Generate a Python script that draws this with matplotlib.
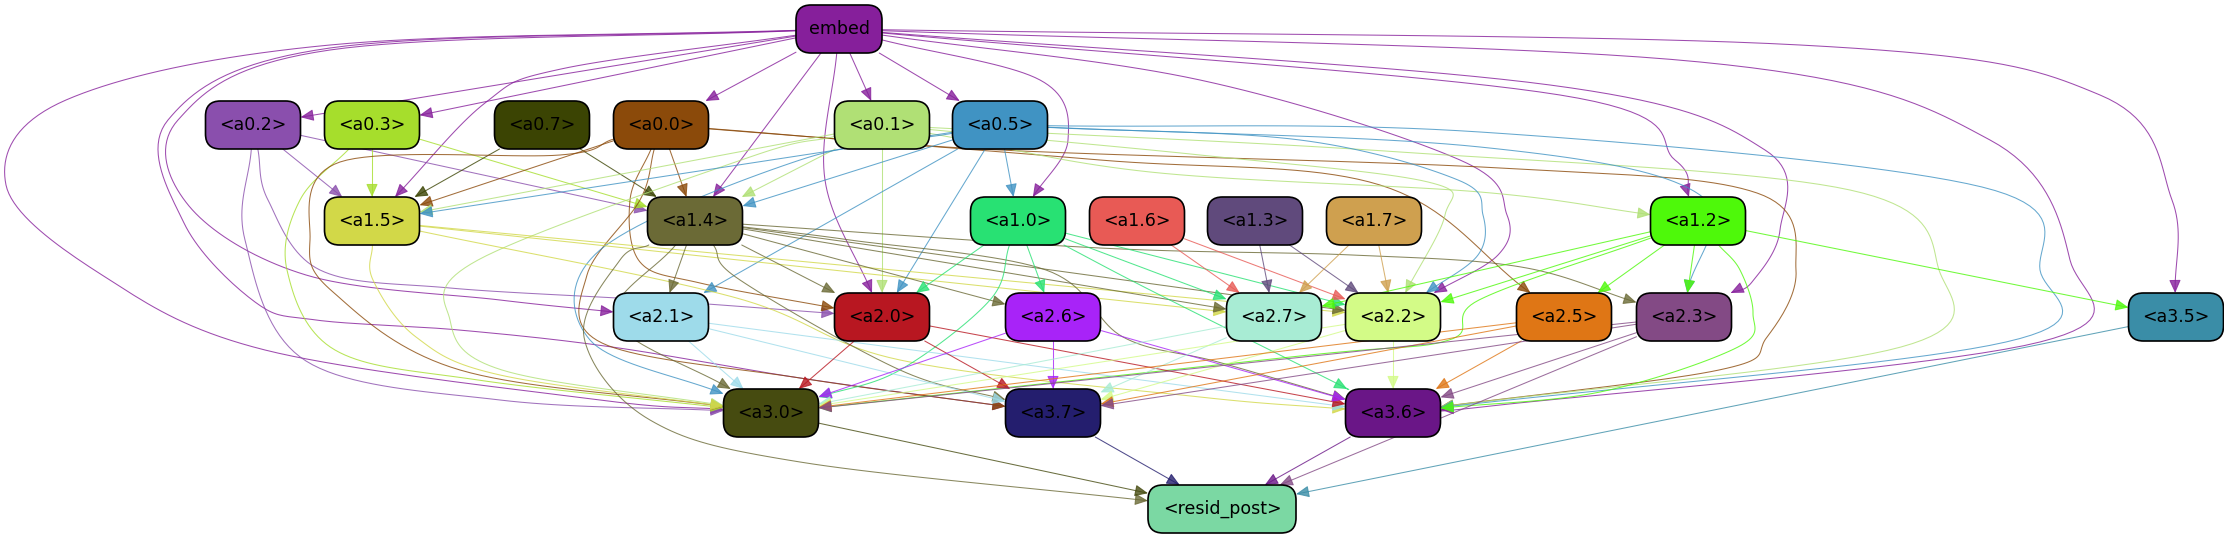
import numpy as np
import matplotlib
matplotlib.use("Agg")
import matplotlib.pyplot as plt
from matplotlib.patches import FancyBboxPatch, FancyArrowPatch, ArrowStyle
from matplotlib.path import Path

# node names and fill colours
nodes = ["embed", "a0.2", "a0.3", "a0.7", "a0.0", "a0.1", "a0.5",
         "a1.5", "a1.4", "a1.0", "a1.6", "a1.3", "a1.7", "a1.2",
         "a2.1", "a2.0", "a2.6", "a2.7", "a2.2", "a2.5", "a2.3", "a3.5",
         "a3.0", "a3.7", "a3.6", "resid_post"]
colors = ["#861f9b", "#8a4fad", "#a6de2c", "#3b4403", "#8b4a0a", "#b0e075", "#4093c3",
          "#d2d848", "#6b6a36", "#28e173", "#e85a55", "#604a7c", "#cfa04f", "#4ef90a",
          "#9edbea", "#b81721", "#a823f8", "#a8ecd4", "#d3fb87", "#df7615", "#834a85", "#3a8da7",
          "#464b10", "#241e6e", "#6a1687", "#7bd8a3"]

# edges: source -> targets
edges = {
    "embed": ["a0.2", "a0.3", "a0.0", "a0.1", "a0.5", "a1.5", "a1.4", "a1.0", "a1.2",
              "a2.0", "a2.1", "a2.2", "a2.3", "a3.0", "a3.7", "a3.6", "a3.5"],
    "a0.2": ["a1.5", "a1.4", "a2.0", "a3.0"],
    "a0.3": ["a1.5", "a1.4", "a3.0"],
    "a0.7": ["a1.5", "a1.4"],
    "a0.0": ["a1.5", "a1.4", "a2.0", "a2.5", "a3.0", "a3.7", "a3.6"],
    "a0.1": ["a1.5", "a1.4", "a1.2", "a2.0", "a2.2", "a3.0", "a3.6"],
    "a0.5": ["a1.0", "a1.4", "a1.5", "a2.0", "a2.1", "a2.2", "a2.3", "a3.0", "a3.6"],
    "a1.5": ["a2.2", "a2.7", "a3.0", "a3.6"],
    "a1.4": ["a2.1", "a2.0", "a2.6", "a2.7", "a2.2", "a2.3", "a3.0", "a3.7", "a3.6", "resid_post"],
    "a1.0": ["a2.0", "a2.6", "a2.7", "a2.2", "a3.0", "a3.6"],
    "a1.6": ["a2.7", "a2.2"],
    "a1.3": ["a2.7", "a2.2"],
    "a1.7": ["a2.7", "a2.2"],
    "a1.2": ["a2.2", "a2.7", "a2.5", "a2.3", "a3.5", "a3.0", "a3.6"],
    "a2.1": ["a3.0", "a3.7", "a3.6"],
    "a2.0": ["a3.0", "a3.7", "a3.6"],
    "a2.6": ["a3.0", "a3.7", "a3.6"],
    "a2.7": ["a3.0", "a3.7"],
    "a2.2": ["a3.0", "a3.7", "a3.6"],
    "a2.5": ["a3.0", "a3.7", "a3.6"],
    "a2.3": ["a3.0", "a3.7", "a3.6", "resid_post"],
    "a3.5": ["resid_post"],
    "a3.0": ["resid_post"],
    "a3.7": ["resid_post"],
    "a3.6": ["resid_post"],
}

# layout (pixel positions of node centres)
pos = {
    "embed": (839, 29),
    "a0.2": (253, 125), "a0.3": (372, 125), "a0.7": (542, 125), "a0.0": (661, 125),
    "a0.1": (882, 125), "a0.5": (1000, 125),
    "a1.5": (372, 221), "a1.4": (695, 221), "a1.0": (1018, 221), "a1.6": (1137, 221),
    "a1.3": (1255, 221), "a1.7": (1374, 221), "a1.2": (1698, 221),
    "a2.1": (661, 317), "a2.0": (882, 317), "a2.6": (1053, 317), "a2.7": (1274, 317),
    "a2.2": (1393, 317), "a2.5": (1564, 317), "a2.3": (1684, 317), "a3.5": (2176, 317),
    "a3.0": (771, 413), "a3.7": (1053, 413), "a3.6": (1393, 413),
    "resid_post": (1222, 509),
}
W, H = 95, 48

# bends for the long edges
routes = {
    ("embed", "a3.0"): [(330, 45), (66, 100), (6, 185), (102, 275), (265, 350), (600, 400)],
    ("embed", "a2.1"): [(330, 50), (178, 120), (189, 206), (306, 275), (500, 300)],
    ("embed", "a3.7"): [(330, 48), (168, 120), (184, 223), (255, 302), (316, 320), (459, 330),
                        (612, 347), (800, 378)],
    ("embed", "a1.5"): [(561, 69), (485, 103)],
    ("embed", "a2.0"): [(825, 180)],
    ("embed", "a1.0"): [(1040, 80), (1068, 140)],
    ("embed", "a2.2"): [(1200, 80), (1460, 160), (1507, 215), (1498, 255)],
    ("embed", "a1.2"): [(1560, 95), (1675, 160)],
    ("embed", "a2.3"): [(1550, 85), (1765, 150), (1780, 230), (1752, 282)],
    ("embed", "a3.6"): [(1700, 62), (1990, 140), (2070, 260), (2040, 342), (1500, 405)],
    ("embed", "a3.5"): [(1800, 45), (2100, 95), (2172, 200)],
    ("a0.0", "a3.6"): [(1000, 150), (1500, 168), (1757, 193), (1796, 270), (1767, 337), (1719, 370)],
    ("a0.0", "a2.5"): [(1100, 160), (1380, 185)],
    ("a0.0", "a3.0"): [(560, 155), (340, 162), (310, 240), (333, 292), (460, 370)],
    ("a0.0", "a2.0"): [(630, 200), (640, 262), (700, 283)],
    ("a0.0", "a3.7"): [(640, 200), (587, 275), (602, 343), (800, 378)],
    ("a0.5", "a3.6"): [(1480, 132), (1982, 187), (2040, 270), (2006, 342)],
    ("a0.5", "a2.3"): [(1480, 147), (1700, 195)],
    ("a0.5", "a2.2"): [(1300, 140), (1458, 180), (1483, 215), (1478, 255)],
    ("a0.5", "a3.0"): [(800, 160), (600, 250), (590, 340)],
    ("a0.1", "a3.6"): [(1400, 152), (1850, 190), (1939, 270), (1901, 347)],
    ("a0.1", "a2.2"): [(1200, 155), (1428, 182), (1445, 215)],
    ("a0.1", "a1.2"): [(1150, 172), (1480, 192)],
    ("a0.1", "a3.0"): [(750, 157), (478, 260), (450, 320), (502, 370)],
    ("a0.3", "a3.0"): [(300, 200), (287, 270), (335, 350), (478, 380)],
    ("a1.5", "a3.0"): [(373, 280), (416, 337), (500, 375)],
    ("a1.5", "a3.6"): [(733, 297), (900, 360), (1200, 397)],
    ("a0.2", "a3.0"): [(245, 240), (306, 361), (500, 400)],
    ("a0.2", "a2.0"): [(268, 200), (320, 270), (450, 288), (650, 300)],
    ("a1.4", "resid_post"): [(620, 260), (584, 337), (650, 420), (800, 462)],
    ("a1.4", "a3.0"): [(615, 320)],
    ("a1.4", "a3.7"): [(740, 280), (900, 370)],
    ("a1.4", "a3.6"): [(850, 240), (1046, 270), (1123, 337), (1218, 362)],
    ("a1.4", "a2.3"): [(1100, 248), (1352, 255), (1521, 267)],
    ("a1.2", "a3.0"): [(1479, 300), (1449, 340), (1300, 356)],
    ("a1.2", "a3.6"): [(1740, 270), (1753, 313), (1738, 347), (1600, 392)],
    ("a1.0", "a3.0"): [(990, 300), (900, 370)],
    ("a1.0", "a3.6"): [(1150, 290), (1330, 380)],
}


def node_size(n):
    if n == "resid_post":
        return 148, H
    if n == "embed":
        return 86, H
    return W, H


def clip(n, p):
    # point on the box border of node n, looking towards p
    cx, cy = pos[n]
    w, h = node_size(n)
    dx, dy = p[0] - cx, p[1] - cy
    if dx == 0 and dy == 0:
        return (cx, cy)
    t = min((w / 2) / abs(dx) if dx else 1e9, (h / 2) / abs(dy) if dy else 1e9)
    return (cx + dx * t, cy + dy * t)


def smooth(pts, n=20):
    pts = np.asarray(pts, float)
    if len(pts) == 2:
        return pts
    ext = np.vstack([2 * pts[0] - pts[1], pts, 2 * pts[-1] - pts[-2]])
    out = []
    for i in range(1, len(ext) - 2):
        p0, p1, p2, p3 = ext[i - 1], ext[i], ext[i + 1], ext[i + 2]
        for t in np.linspace(0, 1, n, endpoint=False):
            t2, t3 = t * t, t * t * t
            out.append(0.5 * ((2 * p1) + (-p0 + p2) * t + (2 * p0 - 5 * p1 + 4 * p2 - p3) * t2
                              + (-p0 + 3 * p1 - 3 * p2 + p3) * t3))
    out.append(pts[-1])
    return np.array(out)


fig = plt.figure(figsize=(22.24, 5.39), dpi=100)
ax = fig.add_axes([0, 0, 1, 1])
ax.set_xlim(0, 2224)
ax.set_ylim(539, 0)
ax.axis("off")

col = dict(zip(nodes, colors))
head = ArrowStyle("-|>", head_length=0.9, head_width=0.4)

for src, targets in edges.items():
    for dst in targets:
        way = routes.get((src, dst), [])
        first = way[0] if way else pos[dst]
        last = way[-1] if way else pos[src]
        pts = [clip(src, first)] + list(way) + [clip(dst, last)]
        curve = smooth(pts)
        arr = FancyArrowPatch(path=Path(curve), arrowstyle=head, mutation_scale=9,
                              color=col[src], lw=0.75, alpha=0.8, zorder=1,
                              shrinkA=0, shrinkB=0)
        ax.add_patch(arr)

for n in nodes:
    cx, cy = pos[n]
    w, h = node_size(n)
    box = FancyBboxPatch((cx - w / 2, cy - h / 2), w, h,
                         boxstyle="round,pad=0,rounding_size=15",
                         fc=col[n], ec="black", lw=1.2, zorder=3)
    ax.add_patch(box)
    label = n if n == "embed" else "<" + n + ">"
    ax.text(cx, cy, label, ha="center", va="center", fontsize=12.5,
            family="DejaVu Sans", color="black", zorder=4)

fig.savefig("out.png", dpi=100)
